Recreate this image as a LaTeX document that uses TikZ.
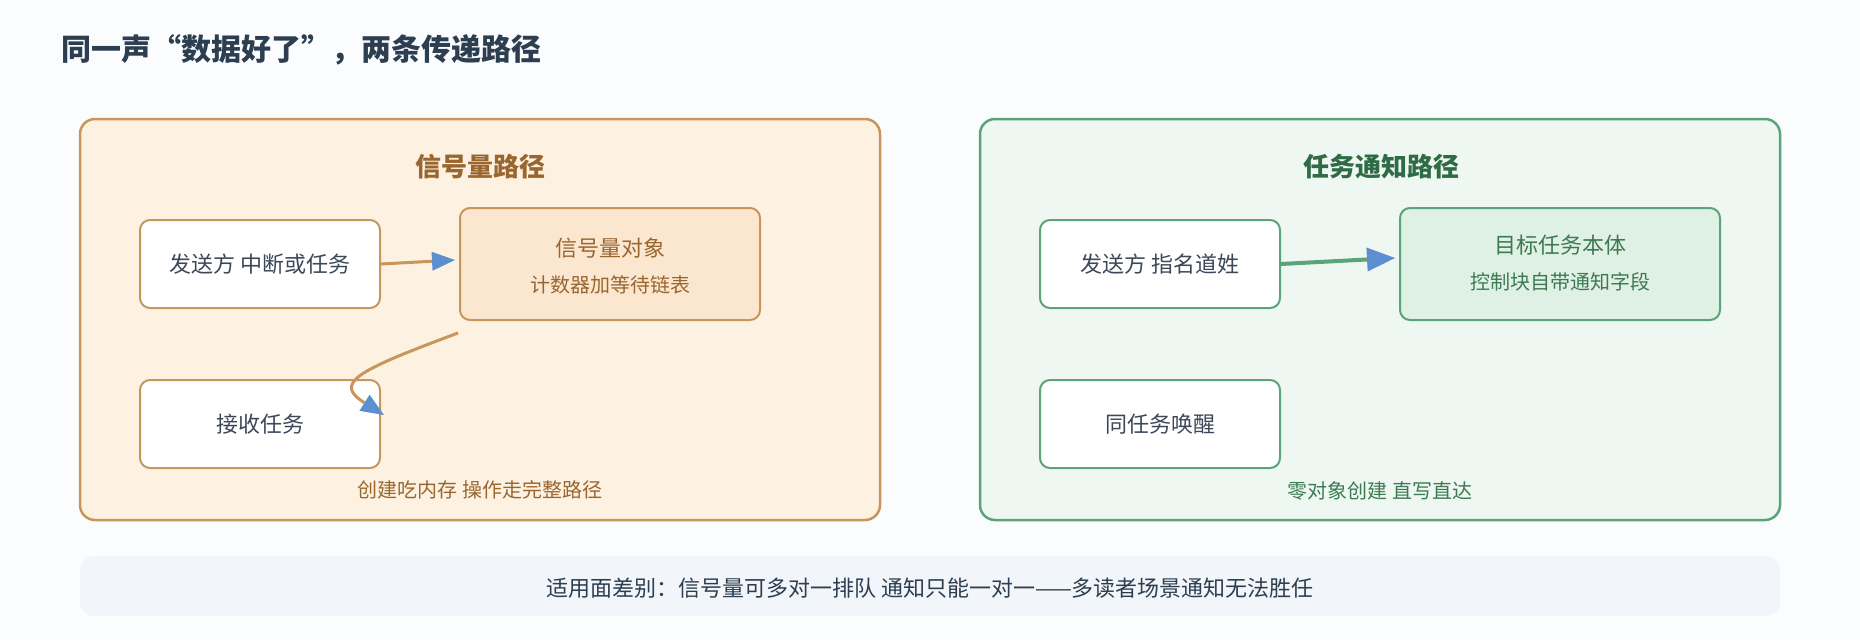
\documentclass[tikz,border=0pt]{standalone}
\usepackage{fontspec}
\setmainfont{Noto Sans CJK SC}
\usetikzlibrary{arrows.meta,calc}
\definecolor{bg}{HTML}{FBFCFE}
\definecolor{titlecol}{HTML}{2C3E50}
\definecolor{txt}{HTML}{3C4858}
\definecolor{orb}{HTML}{C8955A}
\definecolor{orfill}{HTML}{FDF2E2}
\definecolor{orobj}{HTML}{FBE7D0}
\definecolor{ortxt}{HTML}{9A6630}
\definecolor{grb}{HTML}{5BA37A}
\definecolor{grfill}{HTML}{EEF7F1}
\definecolor{grobj}{HTML}{DFF0E4}
\definecolor{grtxt}{HTML}{2F6B45}
\definecolor{grsub}{HTML}{3D7A52}
\definecolor{tipblue}{HTML}{5B8FCF}
\definecolor{barfill}{HTML}{F2F5F9}
\tikzset{
  panel/.style={rectangle, rounded corners=15pt, line width=2.5pt, minimum width=800pt, minimum height=401pt, inner sep=0pt},
  boxw/.style={rectangle, rounded corners=10pt, line width=2pt, fill=white, minimum width=240pt, minimum height=88pt, inner sep=0pt, text=txt, font=\fontsize{22}{26}\selectfont},
  objbox/.style={rectangle, rounded corners=10pt, line width=2pt, minimum height=112pt, inner sep=0pt},
  ptitle/.style={font=\bfseries\fontsize{26}{31}\selectfont, inner sep=0pt},
  maintxt/.style={font=\fontsize{22}{26}\selectfont, inner sep=0pt},
  subtxt/.style={font=\fontsize{20}{24}\selectfont, inner sep=0pt},
  captxt/.style={font=\fontsize{20}{24}\selectfont, inner sep=0pt},
  orarrow/.style={draw=orb, line width=3pt, -{Triangle[length=23pt,width=19pt,color=tipblue,line width=0pt]}},
  grarrow/.style={draw=grb, line width=4pt, -{Triangle[length=28pt,width=24pt,color=tipblue,line width=0pt]}}
}
\begin{document}
\begin{tikzpicture}[x=1pt,y=-1pt]
\useasboundingbox (0,0) rectangle (1860,640);
\fill[bg] (0,0) rectangle (1860,640);
\node[anchor=west, inner sep=0pt, text=titlecol, font=\bfseries\fontsize{30}{36}\selectfont] (title) at (61,50) {同一声“数据好了”，两条传递路径};
% left panel
\node[panel, draw=orb, fill=orfill] (lp) at (480,319.5) {};
\node[ptitle, text=ortxt] (lt) at (480,167) {信号量路径};
\node[boxw, draw=orb] (s1) at (260,264) {发送方 中断或任务};
\node[objbox, draw=orb, fill=orobj, minimum width=300pt] (o1) at (610,264) {};
\node[maintxt, text=ortxt] (o1t) at ($(o1.center)+(0,-16)$) {信号量对象};
\node[subtxt, text=ortxt] (o1s) at ($(o1.center)+(0,21)$) {计数器加等待链表};
\node[boxw, draw=orb] (r1) at (260,424) {接收任务};
\node[captxt, text=ortxt] (lc) at (480,490) {创建吃内存 操作走完整路径};
\draw[orarrow] (s1.east) -- ([yshift=4pt,xshift=-4pt]o1.west);
\coordinate (cs) at ($(o1.south west)+(-1,12)$);
\coordinate (ce) at ($(r1.north east)+(3,36)$);
\draw[orarrow] (cs) .. controls (356,371) and (333,383) .. (ce);
% right panel
\node[panel, draw=grb, fill=grfill] (rp) at (1380,319.5) {};
\node[ptitle, text=grtxt] (rt) at (1381,167) {任务通知路径};
\node[boxw, draw=grb] (s2) at (1160,264) {发送方 指名道姓};
\node[objbox, draw=grb, fill=grobj, minimum width=320pt] (o2) at (1560,264) {};
\node[maintxt, text=grsub] (o2t) at ($(o2.center)+(0,-19)$) {目标任务本体};
\node[subtxt, text=grsub] (o2s) at ($(o2.center)+(0,18)$) {控制块自带通知字段};
\node[boxw, draw=grb] (r2) at (1160,424) {同任务唤醒};
\node[captxt, text=grsub] (rc) at (1380,491) {零对象创建 直写直达};
\draw[grarrow] (s2.east) -- ([yshift=6pt,xshift=-4pt]o2.west);
% bottom bar
\node[rectangle, rounded corners=15pt, fill=barfill, minimum width=1700pt, minimum height=60pt, inner sep=0pt] (bar) at (930,586) {};
\node[inner sep=0pt, text=titlecol, font=\fontsize{22}{26}\selectfont] (bt) at (930,588) {适用面差别：信号量可多对一排队 通知只能一对一——多读者场景通知无法胜任};
\end{tikzpicture}
\end{document}
